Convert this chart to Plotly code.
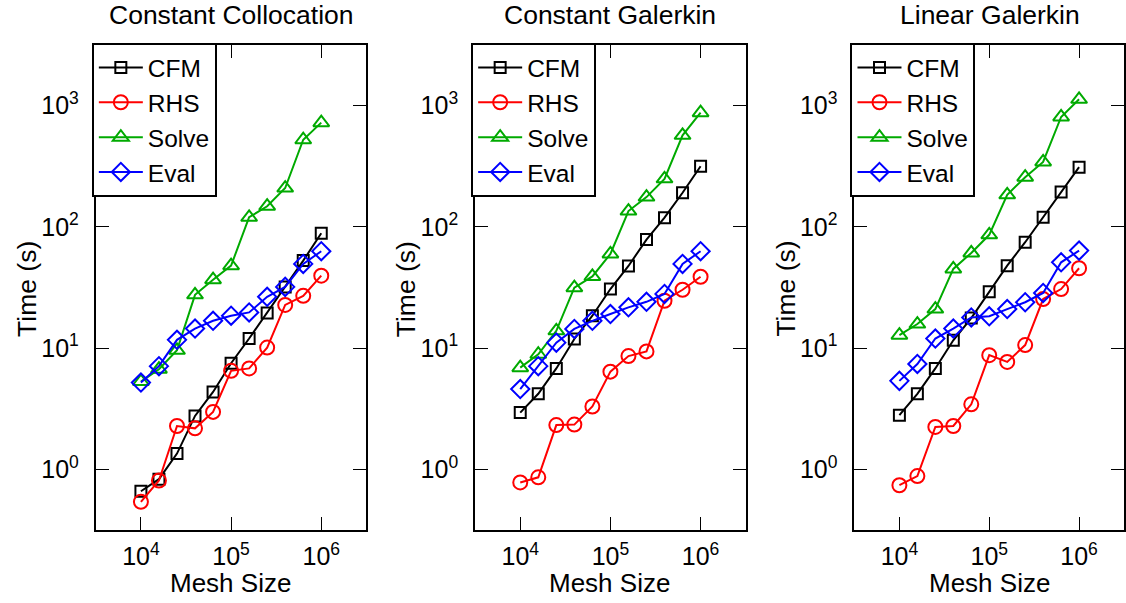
import plotly.graph_objects as go

# ---------------- data ----------------
mesh_size = [1.0e4, 1.585e4, 2.512e4, 3.981e4, 6.310e4, 1.0e5, 1.585e5, 2.512e5, 3.981e5, 6.310e5, 1.0e6]

panel_titles = ["Constant Collocation", "Constant Galerkin", "Linear Galerkin"]
series_names = ["CFM", "RHS", "Solve", "Eval"]

# Constant Collocation
cc_cfm = [0.66, 0.83, 1.35, 2.76, 4.35, 7.5, 12.0, 19.5, 32.0, 52.7, 88.7]
cc_rhs = [0.54, 0.81, 2.28, 2.18, 2.98, 6.5, 6.8, 10.1, 22.7, 27.0, 39.6]
cc_solve = [5.3, 6.7, 9.6, 27.5, 36.7, 47.9, 120.0, 148.0, 209.0, 523.0, 724.0]
cc_eval = [5.2, 7.1, 11.7, 14.5, 16.8, 18.5, 19.7, 26.5, 32.0, 49.5, 63.0]

# Constant Galerkin
cg_cfm = [2.94, 4.2, 6.8, 11.9, 18.5, 30.7, 47.6, 78.5, 119.0, 191.0, 316.0]
cg_rhs = [0.78, 0.86, 2.32, 2.34, 3.3, 6.4, 8.6, 9.4, 24.6, 30.3, 38.8]
cg_solve = [6.9, 8.9, 13.9, 31.5, 39.0, 59.8, 135.0, 176.0, 249.0, 569.0, 875.0]
cg_eval = [4.6, 7.1, 11.1, 14.4, 16.8, 19.1, 21.7, 24.1, 28.0, 49.5, 63.0]

# Linear Galerkin
lg_cfm = [2.8, 4.2, 6.8, 11.6, 17.7, 29.2, 47.9, 74.7, 120.0, 194.0, 311.0]
lg_rhs = [0.74, 0.88, 2.24, 2.28, 3.44, 8.75, 7.7, 10.6, 25.4, 30.7, 45.6]
lg_solve = [12.8, 15.8, 21.0, 45.0, 61.0, 86.0, 184.0, 257.0, 343.0, 806.0, 1127.0]
lg_eval = [5.37, 7.4, 12.0, 14.5, 17.9, 18.3, 21.0, 23.9, 28.5, 51.0, 63.7]

x_tick_vals = [1e4, 1e5, 1e6]
x_tick_text = ["10<sup>4</sup>", "10<sup>5</sup>", "10<sup>6</sup>"]
y_tick_vals = [1, 10, 100, 1000]
y_tick_text = ["10<sup>0</sup>", "10<sup>1</sup>", "10<sup>2</sup>", "10<sup>3</sup>"]

x_label = "Mesh Size"
y_label = "Time (s)"

panels = [
    [cc_cfm, cc_rhs, cc_solve, cc_eval],
    [cg_cfm, cg_rhs, cg_solve, cg_eval],
    [lg_cfm, lg_rhs, lg_solve, lg_eval],
]

# ---------------- style ----------------
W, H = 1126, 603
FONT = "Liberation Sans, Arial, Helvetica, sans-serif"
colors = ["#000000", "#ff0000", "#00aa00", "#0000ff"]
symbols = ["square-open", "circle-open", "triangle-up-open", "diamond-open"]
msizes = [11, 14, 14, 14]

plot_top, plot_bottom = 45, 530
plot_h = plot_bottom - plot_top
panel_left = [96, 476, 856]
panel_w = 271

fig = go.Figure()

for p, series in enumerate(panels):
    ax = "" if p == 0 else str(p + 1)
    leg = "legend" if p == 0 else f"legend{p + 1}"
    for s, vals in enumerate(series):
        fig.add_trace(go.Scatter(
            x=mesh_size, y=vals, name=series_names[s], mode="lines+markers",
            line=dict(color=colors[s], width=2),
            marker=dict(symbol=symbols[s], size=msizes[s], color=colors[s],
                        line=dict(width=2, color=colors[s])),
            xaxis="x" + ax, yaxis="y" + ax, legend=leg,
        ))

layout = dict(
    width=W, height=H,
    margin=dict(l=0, r=0, t=plot_top, b=H - plot_bottom),
    paper_bgcolor="white", plot_bgcolor="white",
    font=dict(family=FONT, size=24, color="black"),
    annotations=[],
)

axis_common = dict(
    type="log", showgrid=False, zeroline=False,
    showline=True, linecolor="black", linewidth=2, mirror="ticks",
    ticks="inside", ticklen=13, tickwidth=1.3, tickcolor="black",
    tickfont=dict(family=FONT, size=25, color="black"),
)

for p in range(3):
    ax = "" if p == 0 else str(p + 1)
    x0 = panel_left[p] / W
    x1 = min((panel_left[p] + panel_w) / W, 1.0)
    layout["xaxis" + ax] = dict(axis_common, domain=[x0, x1], range=[3.5, 6.5],
                                tickvals=x_tick_vals, ticktext=x_tick_text,
                                anchor="y" + ax, ticklabelstandoff=3)
    layout["yaxis" + ax] = dict(axis_common, domain=[0, 1], range=[-0.5, 3.5],
                                tickvals=y_tick_vals, ticktext=y_tick_text,
                                anchor="x" + ax, ticklabelstandoff=10)
    cx = (panel_left[p] + panel_w / 2) / W
    layout["annotations"].append(dict(
        text=panel_titles[p], xref="paper", yref="paper", x=cx,
        y=1 + (plot_top - 15) / plot_h, xanchor="center", yanchor="middle",
        showarrow=False, font=dict(family=FONT, size=26.5, color="black")))
    layout["annotations"].append(dict(
        text=x_label, xref="paper", yref="paper", x=(panel_left[p] + 135) / W,
        y=-(583 - plot_bottom) / plot_h, xanchor="center", yanchor="middle",
        showarrow=False, font=dict(family=FONT, size=26, color="black")))
    layout["annotations"].append(dict(
        text=y_label, xref="paper", yref="paper", x=(panel_left[p] - 69) / W,
        y=(plot_bottom - 289) / plot_h, xanchor="center", yanchor="middle",
        textangle=-90, showarrow=False,
        font=dict(family=FONT, size=26.5, color="black")))
    leg = "legend" if p == 0 else f"legend{p + 1}"
    layout[leg] = dict(
        x=(panel_left[p] - 4) / W, y=(plot_bottom - 43) / plot_h,
        xanchor="left", yanchor="top",
        bgcolor="white", bordercolor="black", borderwidth=2,
        font=dict(family=FONT, size=24.5, color="black"),
        tracegroupgap=0, itemsizing="trace", itemwidth=44,
        entrywidth=122, entrywidthmode="pixels",
    )

fig.update_layout(**layout)
fig.write_html("out.html")
